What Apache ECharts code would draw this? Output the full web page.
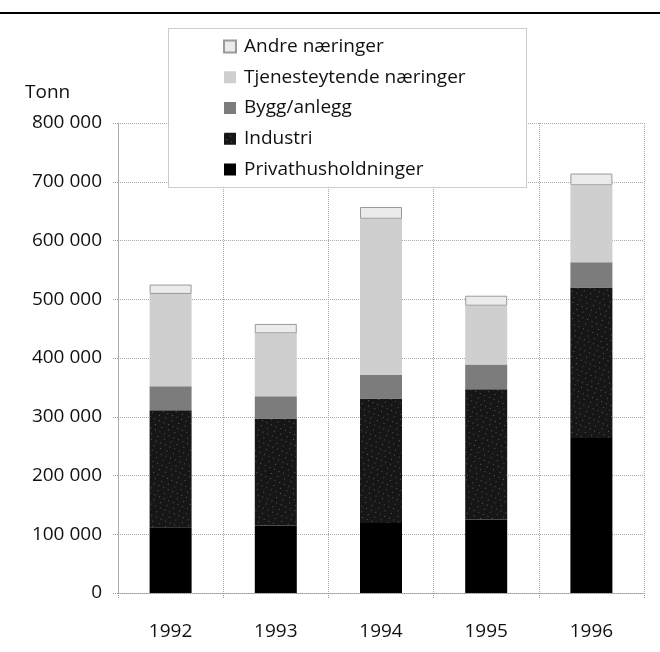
<!DOCTYPE html>
<html>
<head>
<meta charset="utf-8">
<script src="https://cdn.jsdelivr.net/npm/echarts@6/dist/echarts.min.js"></script>
<style>html,body{margin:0;padding:0;background:#fff}#c{width:660px;height:652px}</style>
</head>
<body>
<div id="c"></div>
<script>
const years = ['1992', '1993', '1994', '1995', '1996'];
const privathusholdninger = [112000, 115000, 119000, 125000, 264000];
const industri = [199000, 182000, 212000, 222000, 256000];
const byggAnlegg = [41000, 38000, 40000, 42000, 43000];
const tjenesteytende = [157000, 107000, 266000, 100000, 131000];
const andre = [16000, 16000, 20000, 17000, 20000];
const yTicks = [0, 100000, 200000, 300000, 400000, 500000, 600000, 700000, 800000];
const legendOrder = ['Andre næringer', 'Tjenesteytende næringer', 'Bygg/anlegg', 'Industri', 'Privathusholdninger'];

const FONT = 'Open Sans';
const chart = echarts.init(document.getElementById('c'), null, {renderer: 'canvas'});
function fmt(v) { return String(v).replace(/\B(?=(\d{3})+(?!\d))/g, ' '); }
const barW = 42;
const seriesDefs = [
  {name: 'Privathusholdninger', data: privathusholdninger, color: '#000000'},
  {name: 'Industri', data: industri, color: '#161616',
   decal: {symbol: 'rect', symbolSize: 1, dashArrayX: [[1, 4], [1, 6]], dashArrayY: [1, 4], rotation: 0.4, color: 'rgba(150,150,150,0.55)'}},
  {name: 'Bygg/anlegg', data: byggAnlegg, color: '#7c7c7c'},
  {name: 'Tjenesteytende næringer', data: tjenesteytende, color: '#cfcfcf'},
  {name: 'Andre næringer', data: andre, color: '#ebebeb', border: '#9a9a9a'}
];
chart.setOption({
  animation: false,
  title: {text: 'Tonn', left: 20, top: 78, textStyle: {fontFamily: FONT, fontSize: 19, fontWeight: 'normal', color: '#111'}},
  graphic: [
    {type: 'line', shape: {x1: 0, y1: 13, x2: 660, y2: 13}, style: {stroke: '#000', lineWidth: 2}},
    {type: 'rect', z: 3, shape: {x: 168.5, y: 28.5, width: 358, height: 159}, style: {fill: '#fff', stroke: '#999', lineWidth: 1, lineDash: [1, 1]}}
  ],
  legend: {
    z: 10,
    orient: 'vertical', left: 218, top: 32,
    data: legendOrder,
    itemWidth: 12, itemHeight: 12, itemGap: 11.75,
    icon: 'rect',
    textStyle: {fontFamily: FONT, fontSize: 19, lineHeight: 19, color: '#111', padding: [0, 0, 0, 3]}
  },
  grid: {left: 118, right: 16, top: 123, bottom: 59},
  xAxis: {
    type: 'category', data: years,
    axisLine: {lineStyle: {color: '#999', type: 'dotted'}},
    axisTick: {show: true, length: 6, lineStyle: {color: '#999', type: 'dotted'}},
    axisLabel: {fontFamily: FONT, fontSize: 19, color: '#111', margin: 29},
    splitLine: {show: true, lineStyle: {color: '#aaa', type: 'dotted'}}
  },
  yAxis: {
    type: 'value', min: yTicks[0], max: yTicks[yTicks.length - 1], interval: yTicks[1] - yTicks[0],
    axisLine: {show: true, lineStyle: {color: '#aaa'}},
    axisTick: {show: true, length: 6, lineStyle: {color: '#999', type: 'dotted'}},
    axisLabel: {fontFamily: FONT, fontSize: 19, color: '#111', margin: 16, formatter: fmt},
    splitLine: {show: true, lineStyle: {color: '#aaa', type: 'dotted'}}
  },
  series: seriesDefs.map(s => ({
    name: s.name, type: 'bar', stack: 'total', barWidth: barW, data: s.data,
    itemStyle: Object.assign({color: s.color, borderColor: s.border || s.color, borderWidth: s.border ? 1 : 0}, s.decal ? {decal: s.decal} : {})
  }))
});
</script>
</body>
</html>
